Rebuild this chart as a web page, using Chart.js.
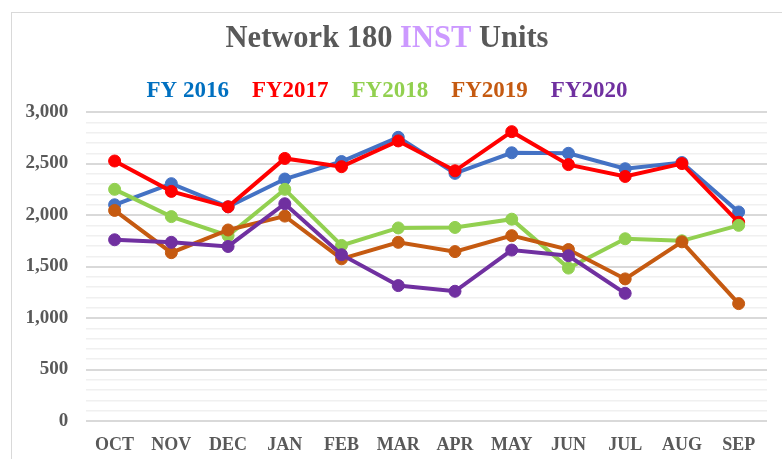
<!DOCTYPE html>
<html>
<head>
<meta charset="utf-8">
<script src="https://cdn.jsdelivr.net/npm/chart.js@4"></script>
<style>
  body { margin: 0; background: #fff; overflow: hidden; }
  #marc { position: absolute; left: 11px; top: 12px; width: 800px; height: 500px; border: 1px solid #d9d9d9; }
  #caixa { position: absolute; left: 0; top: 0; width: 782px; height: 459px; }
</style>
</head>
<body>
<div id="marc"></div>
<div id="caixa"><canvas id="grafica"></canvas></div>
<script>
// mesos de l'any fiscal
var mesos = ['OCT', 'NOV', 'DEC', 'JAN', 'FEB', 'MAR', 'APR', 'MAY', 'JUN', 'JUL', 'AUG', 'SEP'];
var anys = ['FY 2016', 'FY2017', 'FY2018', 'FY2019', 'FY2020'];

var fy2016 = [2100, 2305, 2080, 2350, 2520, 2755, 2405, 2605, 2600, 2450, 2510, 2030];
var fy2017 = [2525, 2230, 2080, 2550, 2470, 2720, 2430, 2810, 2490, 2375, 2500, 1930];
var fy2018 = [2250, 1985, 1800, 2250, 1705, 1875, 1880, 1960, 1485, 1770, 1750, 1900];
var fy2019 = [2045, 1635, 1855, 1990, 1575, 1735, 1645, 1800, 1665, 1380, 1740, 1140];
var fy2020 = [1760, 1735, 1695, 2110, 1615, 1315, 1260, 1660, 1605, 1240, null, null];

var colorsLinia = ['#4472C4', '#FF0000', '#92D050', '#C55A11', '#7030A0'];
var colorsLlegenda = ['#0070C0', '#FF0000', '#92D050', '#C55A11', '#7030A0'];

var titol = ['Network 180 ', 'INST', ' Units'];
var colorsTitol = ['#595959', '#CC99FF', '#595959'];

var lletra = "'Liberation Serif', 'Times New Roman', serif";

function serie(nom, valors, i) {
    return {
        label: nom,
        data: valors,
        borderColor: colorsLinia[i],
        backgroundColor: colorsLinia[i],
        pointBackgroundColor: colorsLinia[i],
        pointBorderColor: colorsLinia[i],
        borderWidth: 4,
        pointRadius: 6,
        pointBorderWidth: 1,
        tension: 0,
        order: 5 - i
    };
}

//plugin per pintar el titol amb dos colors i centrar la llegenda
var titolColors = {
    id: 'titolColors',
    afterLayout: function(chart) {
        chart.legend.left -= 6;
        chart.legend.right -= 6;
    },
    afterDraw: function(chart) {
        var ctx = chart.ctx;
        var tb = chart.titleBlock;
        var y = tb.top + 10 + 30.5 * 1.2 / 2;
        ctx.save();
        ctx.font = 'bold 30.5px ' + lletra;
        ctx.textBaseline = 'middle';
        ctx.textAlign = 'left';
        var total = 0;
        for (var i = 0; i < titol.length; i++) total += ctx.measureText(titol[i]).width;
        var x = 387 - total / 2;
        for (var j = 0; j < titol.length; j++) {
            ctx.fillStyle = colorsTitol[j];
            ctx.fillText(titol[j], x, y);
            x += ctx.measureText(titol[j]).width;
        }
        ctx.restore();
    }
};

const ctx = document.getElementById('grafica');
const grafica = new Chart(ctx, {
    type: 'line',
    data: {
        labels: mesos,
        datasets: [
            serie(anys[0], fy2016, 0),
            serie(anys[1], fy2017, 1),
            serie(anys[2], fy2018, 2),
            serie(anys[3], fy2019, 3),
            serie(anys[4], fy2020, 4)
        ]
    },
    plugins: [titolColors],
    options: {
        responsive: true,
        maintainAspectRatio: false,
        animation: false,
        layout: {
            padding: { top: 11, left: 7.5, right: 15, bottom: 0 }
        },
        plugins: {
            tooltip: { enabled: false },
            title: {
                display: true,
                text: titol.join(''),
                color: 'rgba(0,0,0,0)',
                font: { family: lletra, size: 30.5, weight: 'bold' },
                padding: { top: 10, bottom: 10 }
            },
            legend: {
                display: true,
                position: 'top',
                labels: {
                    boxWidth: 0,
                    boxHeight: 23,
                    padding: 11.5,
                    font: { family: lletra, size: 23, weight: 'bold' },
                    generateLabels: function(chart) {
                        return chart.data.datasets.map(function(ds, i) {
                            return {
                                text: ds.label,
                                fontColor: colorsLlegenda[i],
                                fillStyle: 'rgba(0,0,0,0)',
                                strokeStyle: 'rgba(0,0,0,0)',
                                lineWidth: 0,
                                hidden: false,
                                datasetIndex: i
                            };
                        });
                    }
                }
            }
        },
        scales: {
            y: {
                min: 0,
                max: 3000,
                border: { display: false },
                grid: {
                    drawTicks: false,
                    color: function(c) { return c.tick && c.tick.value % 500 === 0 ? '#D9D9D9' : '#F0F0F0'; },
                    lineWidth: function(c) { return c.tick && c.tick.value % 500 === 0 ? 2 : 1.5; }
                },
                ticks: {
                    stepSize: 100,
                    autoSkip: false,
                    maxTicksLimit: 40,
                    padding: 18,
                    color: '#595959',
                    font: { family: lletra, size: 19, weight: 'bold' },
                    callback: function(v) { return v % 500 === 0 ? v.toLocaleString('en-US') : ''; }
                }
            },
            x: {
                offset: true,
                border: { display: false },
                grid: { display: false, drawTicks: false },
                afterFit: function(eix) {
                    eix.height = 38;
                },
                ticks: {
                    padding: 14,
                    maxRotation: 0,
                    color: '#595959',
                    font: { family: lletra, size: 18, weight: 'bold' }
                }
            }
        }
    }
});
</script>
</body>
</html>
